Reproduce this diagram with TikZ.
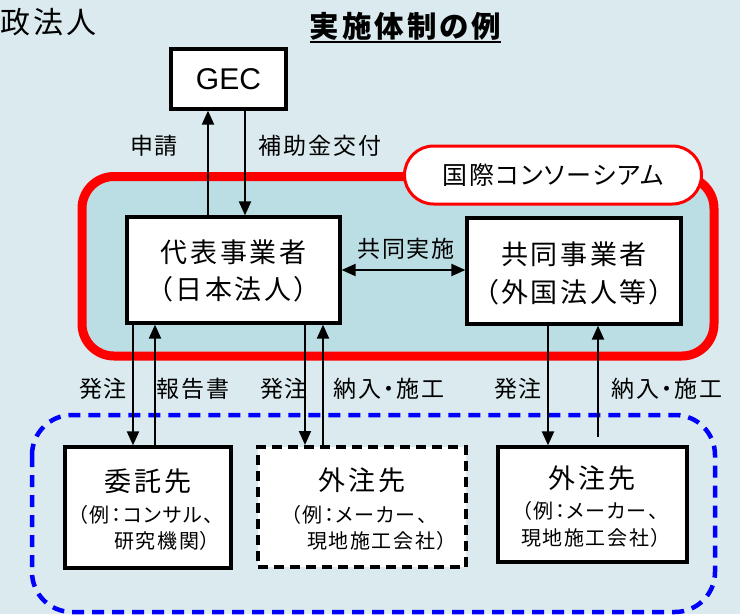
\documentclass[tikz,border=0pt]{standalone}
\usepackage{fontspec}
\setmainfont{Noto Sans CJK JP}[RawFeature=+palt]
\newfontfamily\latinsans{Liberation Sans}
\usetikzlibrary{arrows.meta}
\definecolor{bgc}{RGB}{218,234,238}
\definecolor{conc}{RGB}{187,222,228}
\definecolor{redc}{RGB}{255,0,0}
\definecolor{bluec}{RGB}{0,0,255}
\begin{document}
\begin{tikzpicture}[x=1pt,y=-1pt,
  box/.style={draw=black, line width=3.2pt, fill=white, inner sep=0pt},
  arr/.style={line width=2pt, -{Triangle[length=14pt,width=12pt]}},
  dbl/.style={line width=2pt, {Triangle[length=14pt,width=12pt]}-{Triangle[length=14pt,width=12pt]}},
  lbl/.style={font=\fontsize{23}{23}\selectfont\addfontfeature{LetterSpace=8}, inner sep=0pt},
  big/.style={font=\fontsize{27}{27}\selectfont\addfontfeature{LetterSpace=10}, inner sep=0pt},
  small/.style={font=\fontsize{20}{20}\selectfont\addfontfeature{LetterSpace=8}, inner sep=0pt},
]
\useasboundingbox (0,0) rectangle (740,614);
\fill[bgc] (0,0) rectangle (740,614);

% top texts
\node[font=\fontsize{30}{30}\selectfont\addfontfeature{LetterSpace=10}, anchor=west, inner sep=0pt] (org) at (0,22) {政法人};
\node[font=\bfseries\fontsize{29.5}{29.5}\selectfont\addfontfeature{LetterSpace=10}, inner sep=0pt] (title) at (405.5,26) {実施体制の例};
\draw[line width=2pt] ([yshift=-2pt]title.south west) -- ([yshift=-2pt]title.south east);

% consortium
\node[draw=redc, line width=9pt, fill=conc, rounded corners=32pt, minimum width=632pt, minimum height=179.5pt, inner sep=0pt] (cons) at (398,266.25) {};
\node[draw=redc, line width=3pt, fill=white, rounded corners=29pt, minimum width=297pt, minimum height=58pt, inner sep=0pt, font=\fontsize{25}{25}\selectfont\addfontfeature{LetterSpace=6}] (consl) at (553,175) {国際コンソーシアム};

% subcontractor group
\draw[bluec, line width=4.5pt, dash pattern=on 12pt off 8pt, rounded corners=40pt] (32,415) rectangle (715,612);

% boxes
\node[box, minimum width=115pt, minimum height=60pt, font=\latinsans\fontsize{30}{30}\selectfont] (gec) at (228.5,79) {GEC};
\node[box, minimum width=213pt, minimum height=106pt] (rep) at (233.5,270) {};
\node[box, minimum width=214pt, minimum height=106pt] (co) at (574,271) {};
\node[box, minimum width=166pt, minimum height=121pt] (sub1) at (148,507.5) {};
\node[box, line width=4pt, dash pattern=on 10pt off 6pt, minimum width=208pt, minimum height=120pt] (sub2) at (362,507) {};
\node[box, minimum width=189pt, minimum height=115pt] (sub3) at (592.5,504.5) {};

% box texts
\node[big] (rep1) at (233.5,252) {代表事業者};
\node[big] (rep2) at (233.5,289) {（日本法人）};
\node[big] (co1) at (574,254) {共同事業者};
\node[big] (co2) at (574,292) {（外国法人等）};
\node[big] (s1a) at (148,481) {委託先};
\node[small] (s1b) at (146,515) {（例：コンサル、};
\node[small] (s1c) at (162.5,541) {研究機関）};
\node[big] (s2a) at (362,480) {外注先};
\node[small] (s2b) at (359,515) {（例：メーカー、};
\node[small] (s2c) at (377,541) {現地施工会社）};
\node[big] (s3a) at (592,478) {外注先};
\node[small] (s3b) at (590,511) {（例：メーカー、};
\node[small] (s3c) at (591,538) {現地施工会社）};

% arrows
\draw[arr] ([xshift=-25.5pt]rep.north) -- ([xshift=-20.5pt]gec.south);
\draw[arr] ([xshift=16.5pt]gec.south) -- ([xshift=11.5pt]rep.north);
\draw[dbl] (rep.east) -- (co.west |- rep.east);
\draw[arr] ([xshift=-100.5pt]rep.south) -- ([xshift=-15pt]sub1.north);
\draw[arr] ([xshift=7pt]sub1.north) -- ([xshift=-78.5pt]rep.south);
\draw[arr] ([xshift=71.5pt]rep.south) -- ([xshift=-57pt]sub2.north);
\draw[arr] ([xshift=-39pt]sub2.north) -- ([xshift=89.5pt]rep.south);
\draw[arr] ([xshift=-26pt]co.south) -- ([xshift=-44.5pt]sub3.north);
\draw[arr, shorten <=8pt] ([xshift=5.5pt]sub3.north) -- ([xshift=24pt]co.south);

% labels
\node[lbl] (l1) at (154,146) {申請};
\node[lbl] (l2) at (320,146) {補助金交付};
\node[lbl] (l3) at (406,249) {共同実施};
\node[lbl] (l4) at (103,389) {発注};
\node[lbl] (l5) at (193,389) {報告書};
\node[lbl] (l6) at (284,389) {発注};
\node[lbl] (l7) at (389,389) {納入・施工};
\node[lbl] (l8) at (518,389) {発注};
\node[lbl] (l9) at (667,389) {納入・施工};
\end{tikzpicture}
\end{document}
